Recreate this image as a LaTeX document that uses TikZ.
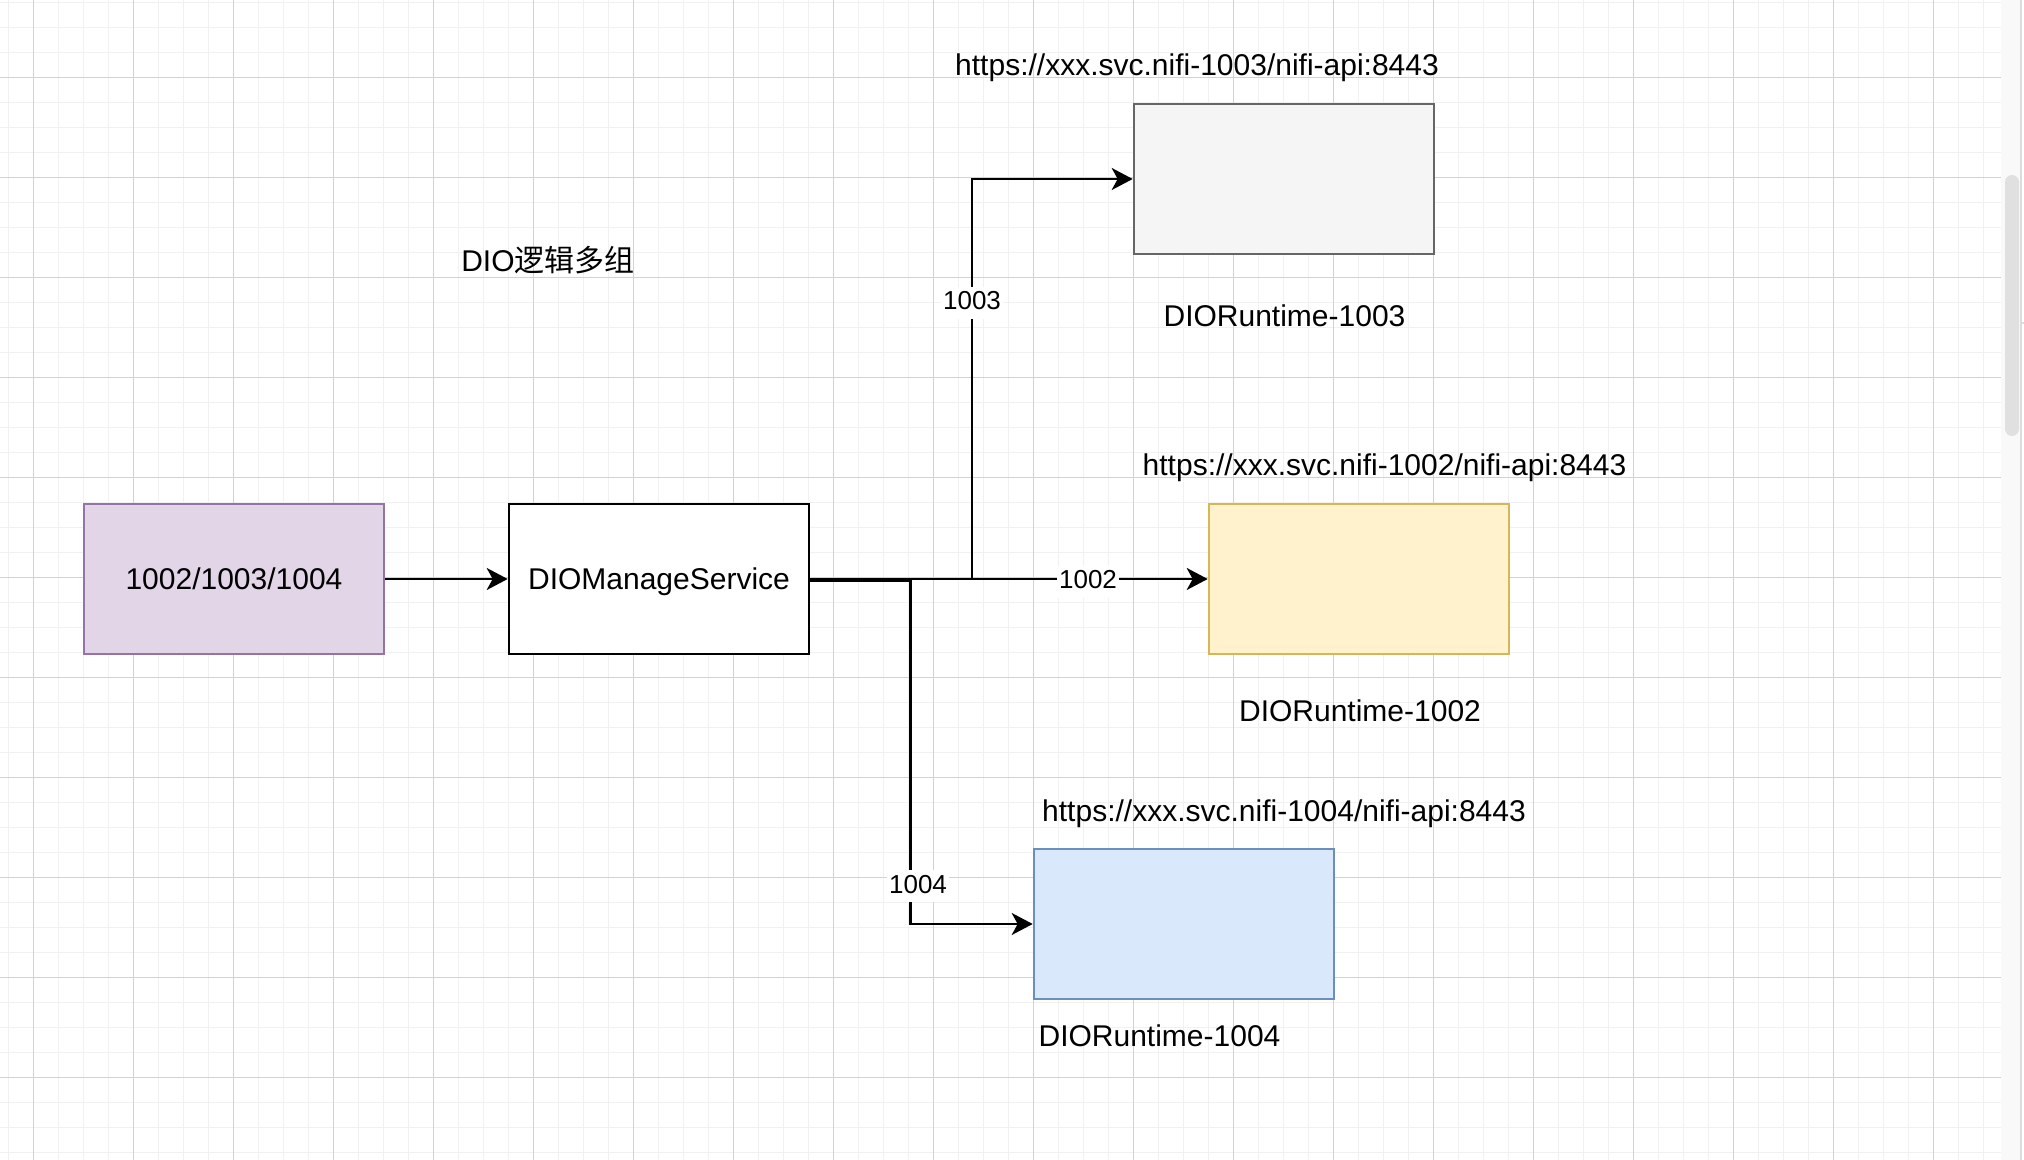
\documentclass[tikz,border=0pt]{standalone}
\usepackage{fontspec}
\setmainfont{Liberation Sans}
\newfontfamily\cjk{Noto Sans CJK SC}
\usetikzlibrary{arrows.meta}
\definecolor{purF}{HTML}{E1D5E7}
\definecolor{purD}{HTML}{9673A6}
\definecolor{gryF}{HTML}{F5F5F5}
\definecolor{gryD}{HTML}{666666}
\definecolor{yelF}{HTML}{FFF2CC}
\definecolor{yelD}{HTML}{D6B656}
\definecolor{bluF}{HTML}{DAE8FC}
\definecolor{bluD}{HTML}{6C8EBF}
\definecolor{gridminor}{HTML}{F1F1F1}
\definecolor{gridmajor}{HTML}{D2D2D2}
\definecolor{panel}{HTML}{F9F9F9}
\definecolor{thumb}{HTML}{E0E0E0}
\definecolor{panelline}{HTML}{DCDCDC}
\begin{document}
\begin{tikzpicture}[x=0.5pt,y=-0.5pt,
  fnt/.style={font=\fontsize{15pt}{18pt}\selectfont},
  box/.style={fnt, draw, line width=1.3pt, minimum width=150pt, minimum height=75pt,
    inner sep=0pt, text height=10.75pt, text depth=0pt},
  txt/.style={fnt, anchor=base, inner sep=0pt},
  elabel/.style={font=\fontsize{13pt}{16pt}\selectfont, anchor=base, fill=white, inner xsep=1.2pt, inner ysep=0pt,
    text height=11.5pt, text depth=4.5pt},
  arr/.style={draw, line width=1.3pt, -{Stealth[length=10.5pt,width=11pt,inset=3pt]}},
  minorgrid/.style={draw=gridminor, line width=0.8pt},
  majorgrid/.style={draw=gridmajor, line width=0.5pt}]
\useasboundingbox (0,0) rectangle (2024,1160);
\fill[white] (0,0) rectangle (2024,1160);
% grid
\foreach \i in {0,...,79} { \draw[minorgrid] ({8.333+25*\i},0) -- ({8.333+25*\i},1160); }
\foreach \j in {0,...,46} { \draw[minorgrid] (0,{2.333+25*\j}) -- (2001,{2.333+25*\j}); }
\foreach \i in {0,...,19} { \draw[majorgrid] ({33.333+100*\i},0) -- ({33.333+100*\i},1160); }
\foreach \j in {0,...,10} { \draw[majorgrid] (0,{77.333+100*\j}) -- (2001,{77.333+100*\j}); }
% right panel and scrollbar
\fill[panel] (2001,0) rectangle (2020,1160);
\fill[thumb, rounded corners=3.5pt] (2005,175) rectangle (2019,436);
\fill[panelline] (2020,0) rectangle (2022,1160);
\fill[panelline] (2022,322) rectangle (2024,324);
% boxes
\node[box, fill=purF, draw=purD] (src) at (234,579) {1002/1003/1004};
\node[box, fill=white, draw=black] (mgr) at (659,579) {DIOManageService};
\node[box, fill=gryF, draw=gryD] (rt3) at (1284,179) {};
\node[box, fill=yelF, draw=yelD] (rt2) at (1359,579) {};
\node[box, fill=bluF, draw=bluD] (rt4) at (1184,924) {};
% free texts
\node[txt] (u3) at (1197,76) {https://xxx.svc.nifi-1003/nifi-api:8443};
\node[txt] (title) at (548,271.7) {DIO{\cjk 逻辑多组}};
\node[txt] (n3) at (1284.5,326.7) {DIORuntime-1003};
\node[txt] (u2) at (1384.5,476) {https://xxx.svc.nifi-1002/nifi-api:8443};
\node[txt] (n2) at (1360,721.7) {DIORuntime-1002};
\node[txt] (u4) at (1284,821.7) {https://xxx.svc.nifi-1004/nifi-api:8443};
\node[txt] (n4) at (1159.5,1046.7) {DIORuntime-1004};
% connectors
\coordinate (j3) at (972,579);
\coordinate (j4) at (910.3,581);
\draw[arr] (src.east) -- (mgr.west);
\draw[arr] (mgr.east) -- (j3) |- (rt3.west);
\draw[arr] (mgr.east) -- (rt2.west);
\draw[arr] ([yshift=-1pt]mgr.east) -- (j4) |- (rt4.west);
% connector labels
\node[elabel] (l3) at (972,310) {1003};
\node[elabel] (l2) at (1088,588.5) {1002};
\node[elabel] (l4) at (918,893.3) {1004};
\end{tikzpicture}
\end{document}
